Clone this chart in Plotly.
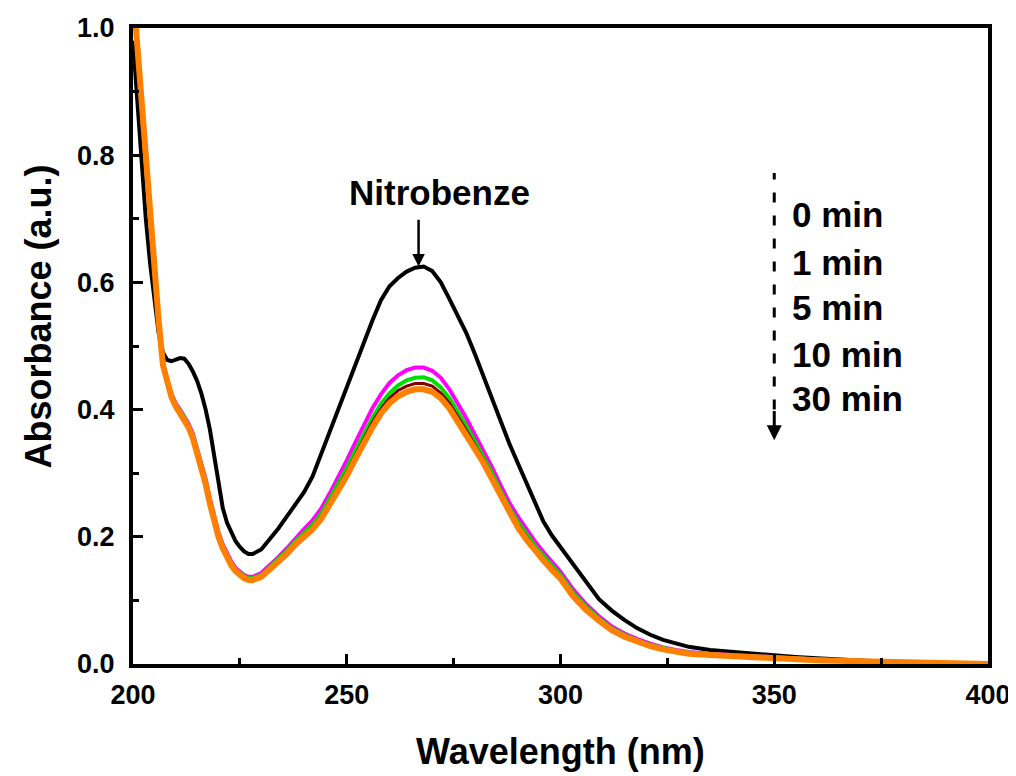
import plotly.graph_objects as go

wavelength = [200, 201, 202, 203, 204, 205, 206, 207, 208, 209, 210, 211, 212, 213, 214,
              215, 216, 217, 218, 219, 220, 221, 222, 223, 224, 225, 226, 227, 228,
              230, 232, 234, 236, 238, 240, 242, 244, 246, 248, 250, 252, 254, 256, 258,
              260, 262, 264, 266, 268, 270, 272, 274, 276, 278, 280, 282, 284, 286, 288,
              290, 292, 294, 296, 298, 300, 303, 306, 309, 312, 315, 318, 321, 324, 327,
              330, 335, 340, 345, 350, 355, 360, 365, 370, 375, 380, 385, 390, 395, 400]

abs_0min = [0.98, 0.88, 0.79, 0.70, 0.63, 0.57, 0.52, 0.49, 0.478, 0.476, 0.478, 0.481, 0.480, 0.472, 0.460,
            0.445, 0.425, 0.400, 0.368, 0.325, 0.280, 0.245, 0.222, 0.206, 0.193, 0.184, 0.177, 0.173, 0.173,
            0.180, 0.196, 0.213, 0.232, 0.252, 0.270, 0.295, 0.330, 0.366, 0.402, 0.437, 0.470, 0.505, 0.540, 0.572,
            0.594, 0.607, 0.617, 0.623, 0.625, 0.618, 0.600, 0.574, 0.548, 0.520, 0.487, 0.451, 0.415, 0.379, 0.347,
            0.316, 0.284, 0.252, 0.224, 0.202, 0.184, 0.157, 0.128, 0.102, 0.084, 0.069, 0.056, 0.046, 0.038, 0.032,
            0.027, 0.022, 0.019, 0.016, 0.013, 0.011, 0.009, 0.007, 0.006, 0.004, 0.002, 0.001, 0.0, 0.0, 0.0]

abs_1min = [1.06, 0.97, 0.88, 0.79, 0.71, 0.62, 0.54, 0.475, 0.445, 0.425, 0.41, 0.40, 0.39, 0.378, 0.362,
            0.340, 0.318, 0.291, 0.260, 0.232, 0.207, 0.188, 0.173, 0.161, 0.151, 0.145, 0.140, 0.137, 0.137,
            0.143, 0.155, 0.168, 0.182, 0.198, 0.212, 0.226, 0.244, 0.268, 0.293, 0.320, 0.348, 0.376, 0.402, 0.424,
            0.442, 0.454, 0.462, 0.466, 0.466, 0.461, 0.450, 0.432, 0.410, 0.386, 0.360, 0.336, 0.309, 0.281, 0.254,
            0.232, 0.212, 0.193, 0.176, 0.160, 0.145, 0.117, 0.094, 0.075, 0.059, 0.048, 0.039, 0.032, 0.026, 0.022,
            0.019, 0.016, 0.014, 0.012, 0.010, 0.009, 0.007, 0.006, 0.005, 0.004, 0.002, 0.001, 0.001, 0.0, 0.0]

abs_5min = [1.06, 0.97, 0.88, 0.79, 0.71, 0.62, 0.54, 0.473, 0.443, 0.423, 0.408, 0.398, 0.388, 0.375, 0.359,
            0.337, 0.314, 0.287, 0.256, 0.229, 0.204, 0.185, 0.170, 0.158, 0.149, 0.143, 0.138, 0.135, 0.135,
            0.140, 0.152, 0.164, 0.178, 0.193, 0.206, 0.219, 0.236, 0.259, 0.283, 0.308, 0.335, 0.362, 0.387, 0.409,
            0.426, 0.438, 0.446, 0.450, 0.451, 0.446, 0.435, 0.418, 0.397, 0.374, 0.350, 0.326, 0.300, 0.272, 0.246,
            0.224, 0.204, 0.186, 0.170, 0.154, 0.140, 0.112, 0.090, 0.072, 0.056, 0.046, 0.037, 0.030, 0.025, 0.021,
            0.018, 0.015, 0.013, 0.012, 0.010, 0.008, 0.007, 0.006, 0.005, 0.003, 0.002, 0.001, 0.001, 0.0, 0.0]

abs_10min = [1.06, 0.97, 0.88, 0.79, 0.71, 0.62, 0.54, 0.471, 0.441, 0.421, 0.406, 0.396, 0.386, 0.373, 0.357,
             0.335, 0.312, 0.285, 0.254, 0.227, 0.202, 0.183, 0.168, 0.156, 0.147, 0.141, 0.136, 0.133, 0.133,
             0.138, 0.150, 0.162, 0.175, 0.190, 0.203, 0.215, 0.232, 0.254, 0.277, 0.302, 0.328, 0.355, 0.380, 0.401,
             0.418, 0.430, 0.437, 0.441, 0.441, 0.437, 0.426, 0.410, 0.389, 0.367, 0.344, 0.321, 0.295, 0.267, 0.241,
             0.219, 0.200, 0.182, 0.166, 0.151, 0.137, 0.109, 0.087, 0.070, 0.054, 0.044, 0.036, 0.029, 0.024, 0.020,
             0.017, 0.014, 0.012, 0.011, 0.009, 0.008, 0.006, 0.005, 0.004, 0.003, 0.002, 0.001, 0.001, 0.0, 0.0]

abs_30min = [1.06, 0.97, 0.88, 0.79, 0.71, 0.62, 0.54, 0.47, 0.44, 0.42, 0.405, 0.395, 0.385, 0.372, 0.355,
             0.333, 0.310, 0.283, 0.252, 0.225, 0.200, 0.182, 0.167, 0.155, 0.146, 0.140, 0.135, 0.132, 0.132,
             0.137, 0.148, 0.160, 0.173, 0.188, 0.200, 0.212, 0.228, 0.250, 0.272, 0.296, 0.322, 0.348, 0.372, 0.394,
             0.410, 0.421, 0.428, 0.432, 0.432, 0.428, 0.418, 0.402, 0.382, 0.360, 0.338, 0.316, 0.290, 0.263, 0.237,
             0.215, 0.196, 0.178, 0.163, 0.148, 0.134, 0.106, 0.085, 0.068, 0.053, 0.043, 0.035, 0.028, 0.023, 0.019,
             0.016, 0.014, 0.012, 0.011, 0.009, 0.008, 0.006, 0.005, 0.004, 0.003, 0.002, 0.001, 0.001, 0.0, 0.0]

series_names = ["0 min", "1 min", "5 min", "10 min", "30 min"]
series_values = [abs_0min, abs_1min, abs_5min, abs_10min, abs_30min]
series_colors = ["#000000", "#FF00FF", "#00DD00", "#800000", "#FF8000"]
series_widths = [4, 4, 4, 3, 6]

x_ticks = [200, 250, 300, 350, 400]
y_ticks = [0.0, 0.2, 0.4, 0.6, 0.8, 1.0]

FONT = "Arial, 'Liberation Sans', sans-serif"

fig = go.Figure()
for name, vals, col, w in zip(series_names, series_values, series_colors, series_widths):
    fig.add_trace(go.Scatter(x=wavelength, y=vals, mode="lines", name=name,
                             line=dict(color=col, width=w), showlegend=False))

# page has an 8px body margin, so the figure is 1008x768 placed at (8, 8)
fig.update_layout(
    width=1008, height=768,
    margin=dict(l=125, r=28, t=20, b=112, autoexpand=False),
    paper_bgcolor="white", plot_bgcolor="white",
    font=dict(family=FONT, color="black"),
)

axis_common = dict(showline=True, linecolor="black", linewidth=4, mirror=True,
                   showgrid=False, zeroline=False, ticks="inside", tickwidth=3,
                   ticklen=10, tickcolor="black", automargin=False,
                   tickfont=dict(family=FONT, size=27, color="black", weight="bold"))

fig.update_xaxes(range=[200, 400], tickvals=x_ticks,
                 minor=dict(ticks="inside", ticklen=6, tickwidth=3, tickcolor="black", dtick=25),
                 ticklabelstandoff=4, **axis_common)
fig.update_yaxes(range=[0, 1.0], tickvals=y_ticks, tickformat=".1f",
                 minor=dict(ticks="inside", ticklen=6, tickwidth=3, tickcolor="black", dtick=0.1),
                 ticklabelstandoff=9, **axis_common)

# axis titles
fig.add_annotation(text="<b>Wavelength (nm)</b>", xref="paper", yref="paper",
                   x=0.5, y=-0.138, xanchor="center", yanchor="middle", showarrow=False,
                   font=dict(family=FONT, size=36, color="black"))
fig.add_annotation(text="<b>Absorbance (a.u.)</b>", xref="paper", yref="paper",
                   x=-0.1106, y=0.547, xanchor="center", yanchor="middle", showarrow=False,
                   textangle=-90, font=dict(family=FONT, size=36, color="black"))

# Nitrobenze label and arrow
fig.add_annotation(text="<b>Nitrobenze</b>", x=271.8, y=0.741, xref="x", yref="y",
                   showarrow=False, xanchor="center", yanchor="middle",
                   font=dict(family=FONT, size=35, color="black"))
fig.add_annotation(text="", x=266.8, y=0.625, ax=266.8, ay=0.701, xref="x", yref="y",
                   axref="x", ayref="y", showarrow=True, arrowhead=2, arrowsize=1,
                   arrowwidth=2.5, arrowcolor="black")

# time labels with dashed arrow
time_label_y = [0.706, 0.632, 0.560, 0.486, 0.418]
for name, yy in zip(series_names, time_label_y):
    fig.add_annotation(text="<b>" + name + "</b>", x=353.7, y=yy, xref="x", yref="y",
                       showarrow=False, xanchor="left", yanchor="middle",
                       font=dict(family=FONT, size=35, color="black"))
fig.add_shape(type="line", x0=350, x1=350, y0=0.40, y1=0.772, xref="x", yref="y",
              line=dict(color="black", width=3, dash="10px,13px"))
fig.add_annotation(text="", x=350, y=0.352, ax=350, ay=0.40, xref="x", yref="y",
                   axref="x", ayref="y", showarrow=True, arrowhead=2, arrowsize=1,
                   arrowwidth=3, arrowcolor="black")

fig.write_html("out.html")
